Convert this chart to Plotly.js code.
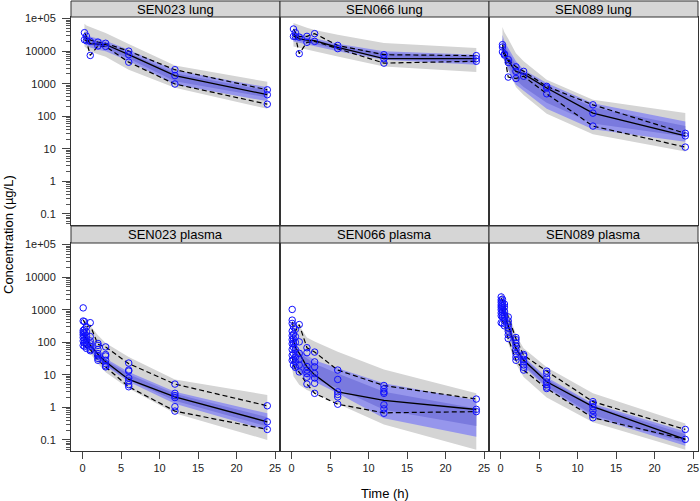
<!DOCTYPE html>
<html>
<head>
<meta charset="utf-8">
<script src="https://cdn.plot.ly/plotly-3.0.1.min.js"></script>
<style>html,body{margin:0;padding:0;background:#fff}#chart{width:700px;height:501px}</style>
</head>
<body>
<div id="chart"></div>
<script>
// ---------------- DATA ----------------
const panelNames = ["SEN023 lung", "SEN066 lung", "SEN089 lung", "SEN023 plasma", "SEN066 plasma", "SEN089 plasma"];
const xTickVals = [0, 5, 10, 15, 20, 25];
const yTickVals = [0.1, 1, 10, 100, 1000, 10000, 100000];
const yTickText = ["0.1", "1", "10", "100", "1000", "10000", "1e+05"];

const lungT = [0.25, 0.5, 1, 2, 3, 6, 12, 24];
const plasmaT = [0.083, 0.25, 0.5, 1, 2, 3, 6, 12, 24];

// SEN023 lung
const s023LungGrayHi = [70000, 62000, 55000, 44000, 36000, 16500, 3600, 1150];
const s023LungGrayLo = [14000, 12000, 10000, 8000, 6800, 2700, 750, 170];
const s023LungBlueHi = [36000, 32000, 28000, 24000, 21000, 11000, 2600, 780];
const s023LungBlueLo = [17000, 15000, 13000, 11000, 10000, 5000, 950, 290];
const s023LungDarkHi = [30000, 27000, 24000, 20000, 18000, 9000, 2100, 620];
const s023LungDarkLo = [20000, 18000, 15500, 13500, 12000, 6000, 1200, 380];
const s023LungObsT = [0.25, 0.25, 0.5, 0.5, 1, 1, 2, 2, 3, 3, 6, 6, 6, 12, 12, 12, 24, 24, 24];
const s023LungObsC = [37000, 22500, 29000, 21000, 20000, 7400, 19000, 14500, 17500, 14000, 10000, 7800, 4600, 2700, 1780, 980, 650, 460, 235];
const s023LungMed = [28000, 25000, 17000, 16800, 16000, 7800, 1780, 460];
const s023LungP95 = [37000, 29000, 22000, 19000, 17500, 10000, 2700, 650];
const s023LungP05 = [22500, 21000, 7400, 14500, 14000, 4600, 980, 235];

// SEN066 lung
const s066LungGrayHi = [74000, 70000, 62000, 52000, 45000, 32000, 17800, 12500];
const s066LungGrayLo = [14000, 13500, 12500, 11000, 10000, 6900, 3400, 2300];
const s066LungBlueHi = [41000, 39000, 35000, 29000, 25000, 17000, 10000, 7800];
const s066LungBlueLo = [20000, 19500, 18500, 16000, 14500, 10000, 5500, 3850];
const s066LungDarkHi = [36000, 34000, 30000, 25000, 22000, 15000, 8800, 7000];
const s066LungDarkLo = [23000, 22000, 20500, 18000, 16500, 11500, 6200, 4400];
const s066LungObsT = [0.25, 0.25, 0.5, 0.5, 1, 1, 2, 2, 3, 3, 6, 6, 12, 12, 12, 24, 24, 24];
const s066LungObsC = [48000, 28500, 37000, 28000, 27000, 8400, 28500, 18700, 34600, 20000, 15000, 12000, 7800, 5900, 4300, 7300, 5900, 4900];
const s066LungMed = [33000, 30000, 24000, 22000, 21000, 13000, 5900, 5900];
const s066LungP95 = [48000, 37000, 28000, 28500, 34600, 15000, 7800, 7300];
const s066LungP05 = [28500, 28000, 8400, 18700, 20000, 12000, 4300, 4900];

// SEN089 lung
const s089LungGrayHi = [55000, 38000, 24000, 8700, 4900, 1320, 320, 126];
const s089LungGrayLo = [6500, 5000, 2600, 800, 450, 120, 28, 8.3];
const s089LungBlueHi = [32000, 20000, 12500, 4900, 2700, 1050, 250, 69];
const s089LungBlueLo = [7900, 5200, 2700, 930, 580, 170, 40, 16.6];
const s089LungDarkHi = [24000, 16000, 9500, 3800, 2200, 850, 190, 50];
const s089LungDarkLo = [10000, 7000, 3600, 1300, 800, 260, 60, 24];
const s089LungObsT = [0.25, 0.25, 0.25, 0.5, 0.5, 1, 1, 1, 2, 2, 2, 3, 3, 6, 6, 6, 12, 12, 12, 24, 24, 24];
const s089LungObsC = [15800, 13400, 9500, 8200, 7600, 5500, 4500, 1600, 3300, 2400, 1450, 2400, 1700, 830, 740, 490, 225, 125, 50, 30, 25, 11.3];
const s089LungMed = [13400, 8200, 5000, 2400, 2000, 740, 125, 25];
const s089LungP95 = [15800, 9000, 5500, 3300, 2400, 830, 225, 30];
const s089LungP05 = [9500, 7800, 1600, 1450, 1700, 490, 50, 11.3];

// SEN023 plasma
const s023PlasGrayHi = [500, 480, 420, 320, 165, 95, 35, 7.2, 2.4];
const s023PlasGrayLo = [120, 90, 65, 45, 22, 12, 3.8, 0.66, 0.1];
const s023PlasBlueHi = [250, 200, 150, 110, 55, 32, 12.3, 3.0, 0.66];
const s023PlasBlueLo = [120, 100, 75, 55, 27, 18, 6.1, 1.3, 0.2];
const s023PlasDarkHi = [220, 180, 130, 95, 48, 28, 10.5, 2.6, 0.5];
const s023PlasDarkLo = [130, 110, 85, 62, 31, 20, 7, 1.6, 0.26];
const s023PlasObsT = [0.083, 0.083, 0.083, 0.083, 0.083, 0.083, 0.083, 0.083,
  0.25, 0.25, 0.25, 0.25, 0.25, 0.25, 0.25,
  0.5, 0.5, 0.5, 0.5, 0.5, 0.5, 0.5,
  1, 1, 1, 1, 1, 1, 1,
  2, 2, 2, 2, 2, 2, 2,
  3, 3, 3, 3, 3, 3, 3,
  6, 6, 6, 6, 6, 6, 6,
  12, 12, 12, 12, 12, 12,
  24, 24, 24];
const s023PlasObsC = [1140, 450, 230, 200, 170, 140, 110, 80,
  430, 250, 190, 150, 120, 95, 75,
  300, 210, 160, 130, 100, 85, 65,
  400, 150, 110, 90, 75, 60, 55,
  92, 80, 60, 45, 38, 32, 28,
  72, 42, 38, 28, 22, 19, 17.6,
  23, 14, 13, 8, 6.5, 5, 4.3,
  5.2, 2.7, 2.3, 2.0, 1.05, 0.77,
  1.12, 0.36, 0.21];
const s023PlasMed = [175, 150, 120, 82, 43, 25, 7.2, 2.1, 0.36];
const s023PlasP95 = [480, 420, 300, 330, 86, 72, 22, 5.2, 1.12];
const s023PlasP05 = [85, 80, 68, 60, 28, 17.6, 4.3, 0.77, 0.21];

// SEN066 plasma
const s066PlasGrayHi = [450, 420, 380, 320, 140, 105, 51, 14.7, 2.7];
const s066PlasGrayLo = [15, 9, 7, 5, 3.4, 2.6, 1.3, 0.3, 0.05];
const s066PlasBlueHi = [110, 92, 75, 58, 40, 28, 16, 5.5, 1.66];
const s066PlasBlueLo = [20, 16, 13, 11, 7.7, 6.1, 2.7, 0.46, 0.126];
const s066PlasDarkHi = [90, 80, 62, 48, 32, 22, 11, 3.0, 0.93];
const s066PlasDarkLo = [25, 20, 16, 13, 9.5, 7.5, 3.9, 0.85, 0.27];
const s066PlasObsT = [0.083, 0.083, 0.083, 0.083, 0.083, 0.083, 0.083, 0.083, 0.083, 0.083,
  0.25, 0.25, 0.25, 0.25, 0.25, 0.25, 0.25, 0.25,
  0.5, 0.5, 0.5, 0.5, 0.5, 0.5, 0.5,
  1, 1, 1, 1, 1, 1,
  2, 2, 2, 2, 2, 2, 2,
  3, 3, 3, 3, 3, 3, 3,
  6, 6, 6, 6, 6, 6,
  12, 12, 12, 12, 12, 12, 12,
  24, 24, 24];
const s066PlasObsC = [1020, 480, 380, 220, 160, 120, 90, 60, 40, 28,
  300, 180, 130, 95, 70, 45, 30, 20,
  250, 150, 100, 60, 35, 25, 17,
  350, 103, 46, 30, 20, 12.3,
  68, 48, 18, 14, 11, 8.5, 5.2,
  50, 25, 17.6, 11, 8, 5.5, 2.7,
  14, 7.2, 3.0, 2.5, 2.1, 1.25,
  4.7, 3.7, 3.0, 2.7, 1.2, 0.9, 0.66,
  1.8, 0.87, 0.74];
const s066PlasMed = [165, 115, 70, 46, 17.6, 10, 3.0, 1.65, 0.86];
const s066PlasP95 = [420, 280, 220, 350, 68, 50, 14, 4.7, 1.8];
const s066PlasP05 = [35, 20, 15, 12, 5.2, 2.7, 1.25, 0.68, 0.74];

// SEN089 plasma
const s089PlasGrayHi = [3500, 3000, 2000, 900, 170, 65, 17, 2.7, 0.32];
const s089PlasGrayLo = [600, 400, 240, 92, 22, 8.6, 2.0, 0.35, 0.05];
const s089PlasBlueHi = [2000, 1500, 1000, 500, 95, 36, 8.5, 1.3, 0.18];
const s089PlasBlueLo = [900, 700, 450, 180, 40, 18, 3.9, 0.5, 0.066];
const s089PlasDarkHi = [1800, 1300, 900, 430, 85, 32, 7.5, 1.15, 0.15];
const s089PlasDarkLo = [1000, 800, 500, 200, 45, 20, 4.4, 0.58, 0.08];
const s089PlasObsT = [0.083, 0.083, 0.083, 0.083, 0.083, 0.083, 0.083, 0.083, 0.083,
  0.25, 0.25, 0.25, 0.25, 0.25, 0.25, 0.25, 0.25,
  0.5, 0.5, 0.5, 0.5, 0.5, 0.5, 0.5,
  1, 1, 1, 1, 1, 1, 1,
  2, 2, 2, 2, 2, 2, 2, 2,
  3, 3, 3, 3, 3, 3, 3,
  6, 6, 6, 6, 6, 6, 6,
  12, 12, 12, 12, 12, 12,
  24, 24];
const s089PlasObsC = [2470, 2000, 1700, 1400, 1200, 1000, 800, 650, 400,
  2100, 1600, 1300, 1000, 850, 700, 600, 380,
  1500, 1200, 900, 700, 550, 450, 320,
  600, 450, 350, 280, 220, 170, 130,
  140, 120, 95, 75, 60, 45, 35, 28,
  42, 38, 30, 25, 20, 17, 14,
  13, 11, 8, 6, 5, 4.2, 3.8,
  1.5, 1.3, 1.05, 0.8, 0.6, 0.48,
  0.21, 0.104];
const s089PlasMed = [1100, 1000, 700, 300, 65, 28, 6.1, 1.05, 0.104];
const s089PlasP95 = [2300, 1900, 1400, 600, 130, 40, 13, 1.5, 0.21];
const s089PlasP05 = [500, 450, 350, 130, 28, 14, 3.8, 0.48, 0.104];

// ---------------- BUILD ----------------
const panels = [
  {t: lungT, gh: s023LungGrayHi, gl: s023LungGrayLo, bh: s023LungBlueHi, bl: s023LungBlueLo, dh: s023LungDarkHi, dl: s023LungDarkLo, ot: s023LungObsT, oc: s023LungObsC, med: s023LungMed, p95: s023LungP95, p05: s023LungP05},
  {t: lungT, gh: s066LungGrayHi, gl: s066LungGrayLo, bh: s066LungBlueHi, bl: s066LungBlueLo, dh: s066LungDarkHi, dl: s066LungDarkLo, ot: s066LungObsT, oc: s066LungObsC, med: s066LungMed, p95: s066LungP95, p05: s066LungP05},
  {t: lungT, gh: s089LungGrayHi, gl: s089LungGrayLo, bh: s089LungBlueHi, bl: s089LungBlueLo, dh: s089LungDarkHi, dl: s089LungDarkLo, ot: s089LungObsT, oc: s089LungObsC, med: s089LungMed, p95: s089LungP95, p05: s089LungP05},
  {t: plasmaT, gh: s023PlasGrayHi, gl: s023PlasGrayLo, bh: s023PlasBlueHi, bl: s023PlasBlueLo, dh: s023PlasDarkHi, dl: s023PlasDarkLo, ot: s023PlasObsT, oc: s023PlasObsC, med: s023PlasMed, p95: s023PlasP95, p05: s023PlasP05},
  {t: plasmaT, gh: s066PlasGrayHi, gl: s066PlasGrayLo, bh: s066PlasBlueHi, bl: s066PlasBlueLo, dh: s066PlasDarkHi, dl: s066PlasDarkLo, ot: s066PlasObsT, oc: s066PlasObsC, med: s066PlasMed, p95: s066PlasP95, p05: s066PlasP05},
  {t: plasmaT, gh: s089PlasGrayHi, gl: s089PlasGrayLo, bh: s089PlasBlueHi, bl: s089PlasBlueLo, dh: s089PlasDarkHi, dl: s089PlasDarkLo, ot: s089PlasObsT, oc: s089PlasObsC, med: s089PlasMed, p95: s089PlasP95, p05: s089PlasP05}
];

const W = 700, H = 501;
const colPx = [[71, 280], [280, 489], [489, 698]];
const rowPx = [[17, 225], [243, 451]];
const stripPx = [[1, 17], [226, 243]];
const px2x = p => p / W;
const py2y = p => 1 - p / H;

const minorVals = [];
for (let e = -2; e <= 5; e++) for (let m = 2; m <= 9; m++) minorVals.push(m * Math.pow(10, e));

const FONT = "Liberation Sans, Arial, sans-serif";
const traces = [];
const layout = {
  width: W, height: H, margin: {l: 0, r: 0, t: 0, b: 0},
  paper_bgcolor: "#fff", plot_bgcolor: "#fff", showlegend: false,
  font: {family: FONT, size: 11, color: "#222"},
  shapes: [], annotations: []
};

function poly(t, hi, lo) {
  return {x: t.concat(t.slice().reverse()), y: hi.concat(lo.slice().reverse())};
}

panels.forEach((p, i) => {
  const col = i % 3, row = Math.floor(i / 3);
  const k = i === 0 ? "" : String(i + 1);
  const xa = "x" + k, ya = "y" + k;
  const band = (hi, lo, color) => {
    const pg = poly(p.t, hi, lo);
    traces.push({x: pg.x, y: pg.y, xaxis: xa, yaxis: ya, type: "scatter", mode: "lines",
      fill: "toself", fillcolor: color, line: {width: 0}, hoverinfo: "skip"});
  };
  band(p.gh, p.gl, "#d4d4d4");
  band(p.bh, p.bl, "rgb(150,150,236)");
  band(p.dh, p.dl, "rgb(122,122,222)");
  traces.push({x: p.t, y: p.p95, xaxis: xa, yaxis: ya, type: "scatter", mode: "lines", line: {color: "#000", width: 1.2, dash: "5px,3px"}});
  traces.push({x: p.t, y: p.p05, xaxis: xa, yaxis: ya, type: "scatter", mode: "lines", line: {color: "#000", width: 1.2, dash: "5px,3px"}});
  traces.push({x: p.t, y: p.med, xaxis: xa, yaxis: ya, type: "scatter", mode: "lines", line: {color: "#000", width: 1.3}});
  traces.push({x: p.ot, y: p.oc, xaxis: xa, yaxis: ya, type: "scatter", mode: "markers",
    marker: {symbol: "circle-open", size: 6.5, color: "#1010ff", line: {width: 1, color: "#1010ff"}}});

  const xAx = {
    domain: [px2x(colPx[col][0]), px2x(colPx[col][1])], range: [-1.5, 25.65], anchor: ya,
    showline: true, mirror: true, linecolor: "#333", linewidth: 1, showgrid: false, zeroline: false,
    tickvals: xTickVals, fixedrange: true
  };
  if (row === 1) {
    Object.assign(xAx, {ticks: "outside", ticklen: 7, tickcolor: "#444", tickwidth: 1, showticklabels: true,
      tickfont: {family: FONT, size: 11, color: "#222"}});
  } else {
    Object.assign(xAx, {ticks: "", showticklabels: false});
  }
  const yAx = {
    domain: [py2y(rowPx[row][1]), py2y(rowPx[row][0])], type: "log", range: [-1.34, 5.05], anchor: xa,
    showline: true, mirror: true, linecolor: "#333", linewidth: 1, showgrid: false, zeroline: false,
    tickvals: yTickVals, ticktext: yTickText, fixedrange: true
  };
  if (col === 0) {
    Object.assign(yAx, {ticks: "outside", ticklen: 8, tickcolor: "#444", tickwidth: 1, showticklabels: true,
      ticklabelstandoff: 4,
      tickfont: {family: FONT, size: 11, color: "#222"},
      minor: {tickvals: minorVals, ticks: "outside", ticklen: 4, tickcolor: "#555", tickwidth: 1, showgrid: false}});
  } else {
    Object.assign(yAx, {ticks: "", showticklabels: false});
  }
  layout["xaxis" + k] = xAx;
  layout["yaxis" + k] = yAx;

  // strip
  layout.shapes.push({type: "rect", xref: "paper", yref: "paper",
    x0: px2x(colPx[col][0]), x1: px2x(colPx[col][1]),
    y0: py2y(stripPx[row][1]), y1: py2y(stripPx[row][0]),
    fillcolor: "#d6d6d6", line: {color: "#333", width: 1}, layer: "above"});
  layout.annotations.push({xref: "paper", yref: "paper",
    x: px2x((colPx[col][0] + colPx[col][1]) / 2), y: py2y((stripPx[row][0] + stripPx[row][1]) / 2),
    text: panelNames[i], showarrow: false, xanchor: "center", yanchor: "middle",
    font: {family: FONT, size: 13, color: "#000"}});
});

layout.annotations.push({xref: "paper", yref: "paper", x: px2x(384.5), y: py2y(493),
  text: "Time (h)", showarrow: false, xanchor: "center", yanchor: "middle",
  font: {family: FONT, size: 13, color: "#000"}});
layout.annotations.push({xref: "paper", yref: "paper", x: px2x(9), y: py2y(235),
  text: "Concentration (µg/L)", textangle: -90, showarrow: false, xanchor: "center", yanchor: "middle",
  font: {family: FONT, size: 13, color: "#000"}});

Plotly.newPlot("chart", traces, layout, {staticPlot: true, displayModeBar: false});
</script>
</body>
</html>
